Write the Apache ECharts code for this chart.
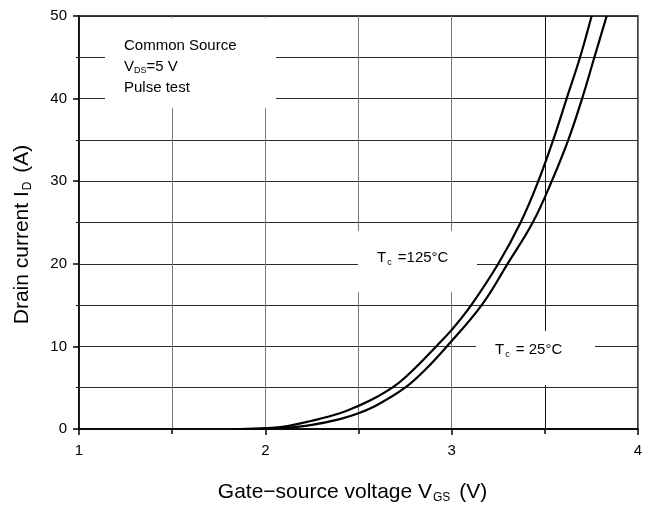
<!DOCTYPE html>
<html>
<head>
<meta charset="utf-8">
<script src="https://cdn.jsdelivr.net/npm/echarts@6/dist/echarts.min.js"></script>
<style>html,body{margin:0;padding:0;background:#fff}#c{width:650px;height:509px}</style>
</head>
<body>
<div id="c"></div>
<script>
// Tc = 125 °C curve: gate-source voltage (V) and drain current (A)
const vgs125 = [1.82, 1.9, 2.0, 2.1, 2.25, 2.4, 2.5, 2.6, 2.7, 2.8, 2.917, 3.0, 3.105, 3.25, 3.37, 3.465, 3.545, 3.617, 3.689, 3.751];
const id125  = [0, 0.03, 0.12, 0.28, 1.0, 1.9, 2.8, 3.9, 5.3, 7.3, 10, 12.0, 15, 20, 25, 30, 35, 40, 45, 50];
// Tc = 25 °C curve
const vgs25 = [1.9, 2.0, 2.1, 2.25, 2.4, 2.5, 2.6, 2.75, 2.85, 2.974, 3.161, 3.30, 3.435, 3.537, 3.626, 3.70, 3.766, 3.832];
const id25  = [0, 0.05, 0.12, 0.5, 1.2, 1.9, 2.9, 5.0, 7.0, 10, 15, 20, 25, 30, 35, 40, 45, 50];
// axis ticks
const xTicks = [1, 2, 3, 4];
const yTicks = [0, 10, 20, 30, 40, 50];
// the one darker vertical grid line
const darkGridX = [3.5];

const FONT = '"Liberation Sans", Arial, sans-serif';
const pair = (xs, ys) => xs.map((x, i) => [x, ys[i]]);

const chart = echarts.init(document.getElementById('c'), null, {renderer: 'canvas'});
const nameRich = {n: {fontSize: 21, fontFamily: FONT, color: '#000'}, s: {fontSize: 12, fontFamily: FONT, color: '#000', padding: [12, 3, 0, 1]}};
const annRich = {n: {fontSize: 15, fontFamily: FONT, fill: '#000'}, s: {fontSize: 9, fontFamily: FONT, fill: '#000', padding: [9, 2, 0, 1]}};

chart.setOption({
  backgroundColor: '#fff',
  animation: false,
  grid: {left: 79, right: 12, top: 16, bottom: 79, show: true, borderColor: '#000', borderWidth: 1.5, backgroundColor: 'transparent'},
  xAxis: {
    type: 'value', min: xTicks[0], max: xTicks[xTicks.length - 1], interval: 1,
    name: '{n|Gate\u2212source voltage V}{s|GS}{n| (V)}',
    nameLocation: 'middle', nameGap: 51,
    nameTextStyle: {rich: nameRich, padding: [0, 12, 0, 0]},
    axisLine: {lineStyle: {color: '#000', width: 1.5}},
    axisTick: {length: 6, lineStyle: {color: '#000', width: 1.5}},
    minorTick: {show: true, splitNumber: 2, length: 5, lineStyle: {color: '#000', width: 1.5}},
    axisLabel: {fontSize: 15, fontFamily: FONT, color: '#000', margin: 14},
    splitLine: {show: true, lineStyle: {color: '#7a7a7a', width: 1}},
    minorSplitLine: {show: true, lineStyle: {color: '#7a7a7a', width: 1}}
  },
  yAxis: {
    type: 'value', min: yTicks[0], max: yTicks[yTicks.length - 1], interval: 10,
    name: '{n|Drain current I}{s|D}{n| (A)}',
    nameLocation: 'middle', nameGap: 45,
    nameTextStyle: {rich: nameRich, padding: [0, 24, 0, 0]},
    axisLine: {lineStyle: {color: '#000', width: 1.5}},
    axisTick: {length: 6, lineStyle: {color: '#000', width: 1.5}},
    minorTick: {show: true, splitNumber: 2, length: 3, lineStyle: {color: '#000', width: 1}},
    axisLabel: {fontSize: 15, fontFamily: FONT, color: '#000', margin: 12},
    splitLine: {show: true, lineStyle: {color: '#2a2a2a', width: 1}},
    minorSplitLine: {show: true, lineStyle: {color: '#2a2a2a', width: 1}}
  },
  graphic: [
    {type: 'rect', z: 30, shape: {x: 105, y: 18, width: 171, height: 90}, style: {fill: '#fff'}},
    {type: 'text', z: 31, x: 124, y: 35,
      style: {text: '{n|Common Source}\n{n|V}{s|DS}{n|=5 V}\n{n|Pulse test}', lineHeight: 21, rich: {
        n: {fontSize: 15, fontFamily: FONT, fill: '#000', lineHeight: 21},
        s: {fontSize: 9, fontFamily: FONT, fill: '#000', padding: [9, 0, 0, 0]}}}},
    {type: 'rect', z: 30, shape: {x: 358, y: 231, width: 119, height: 61}, style: {fill: '#fff'}},
    {type: 'text', z: 31, x: 377, y: 249, style: {text: '{n|T}{s|c}{n| =125°C}', rich: annRich}},
    {type: 'rect', z: 30, shape: {x: 476, y: 331, width: 119, height: 54}, style: {fill: '#fff'}},
    {type: 'text', z: 31, x: 495, y: 341, style: {text: '{n|T}{s|c}{n| = 25°C}', rich: annRich}}
  ],
  series: [
    {type: 'line', name: '125', z: 20, data: pair(vgs125, id125), smooth: 0.4, showSymbol: false, symbol: 'none',
      lineStyle: {color: '#000', width: 2.2},
      markLine: {silent: true, symbol: 'none', label: {show: false}, lineStyle: {color: '#111', width: 1, type: 'solid'},
        data: darkGridX.map(v => ({xAxis: v}))}},
    {type: 'line', name: '25', z: 20, data: pair(vgs25, id25), smooth: 0.4, showSymbol: false, symbol: 'none',
      lineStyle: {color: '#000', width: 2.2}}
  ]
});
</script>
</body>
</html>
